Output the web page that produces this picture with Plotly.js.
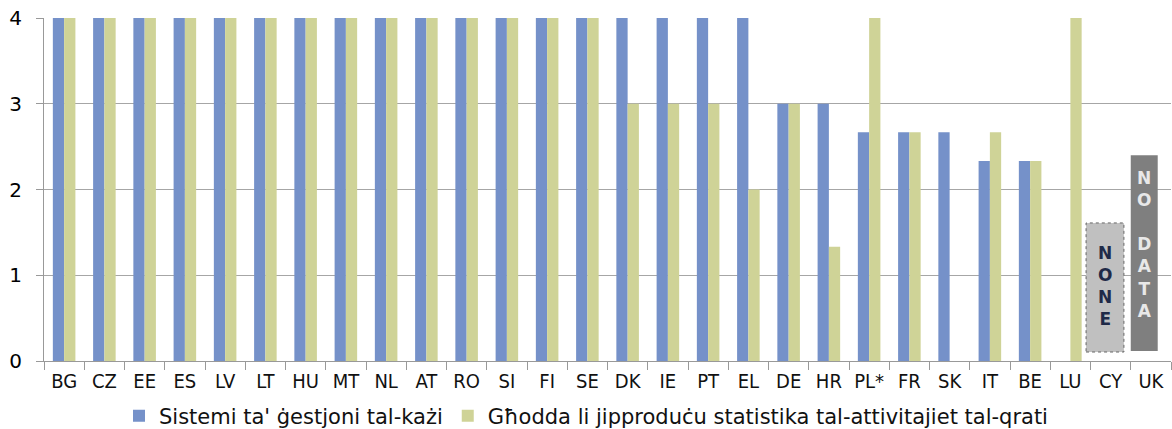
<!DOCTYPE html>
<html>
<head>
<meta charset="utf-8">
<script src="https://cdn.plot.ly/plotly-3.0.1.min.js"></script>
<style>html,body{margin:0;padding:0;background:#fff;}#chart{width:1172px;height:429px;}</style>
</head>
<body>
<div id="chart"></div>
<script>
const categories = ["BG","CZ","EE","ES","LV","LT","HU","MT","NL","AT","RO","SI","FI","SE","DK","IE","PT","EL","DE","HR","PL*","FR","SK","IT","BE","LU","CY","UK"];
const caseMgmt = [4,4,4,4,4,4,4,4,4,4,4,4,4,4,4,4,4,4,3,3,2.667,2.667,2.667,2.333,2.333,null,null,null];
const courtStats = [4,4,4,4,4,4,4,4,4,4,4,4,4,4,3,3,3,2,3,1.333,4,2.667,null,2.667,2.333,4,null,null];
const seriesNames = ["Sistemi ta' ġestjoni tal-każi","Għodda li jipproduċu statistika tal-attivitajiet tal-qrati"];
const yTicks = [0,1,2,3,4];

const FONT = "'DejaVu Sans', sans-serif";
const FONT_C = "'DejaVu Sans Condensed', 'DejaVu Sans', sans-serif";
const data = [
  {type:'bar', x:categories, y:caseMgmt, name:seriesNames[0], marker:{color:'#7591c9'}},
  {type:'bar', x:categories, y:courtStats, name:seriesNames[1], marker:{color:'#cfd397'}}
];
const idx = c => categories.indexOf(c);
const layout = {
  width:1172, height:429,
  margin:{l:44, r:1, t:18, b:68, autoexpand:false},
  paper_bgcolor:'#fff', plot_bgcolor:'#fff',
  font:{family:FONT, color:'#111', size:19},
  barmode:'group', bargap:0.44, bargroupgap:0,
  showlegend:true,
  legend:{orientation:'h', x:0.5, xanchor:'center', xref:'container', yref:'container', y:0.078, yanchor:'top',
          font:{size:21}, itemwidth:30, tracegroupgap:0},
  xaxis:{type:'category', tickson:'boundaries', ticks:'outside', ticklen:8, tickcolor:'#999', automargin:false,
         showline:true, linecolor:'#999', showgrid:false, tickangle:0,
         tickfont:{size:20, family:FONT_C}, range:[-0.5,27.5], ticklabelstandoff:2},
  yaxis:{range:[0,4], tickvals:yTicks, ticks:'outside', ticklen:7, tickcolor:'#999', automargin:false,
         showline:true, linecolor:'#999', showgrid:true, gridcolor:'#a6a6a6', gridwidth:1,
         zeroline:false, tickfont:{size:20, color:'#000'}, ticklabelstandoff:10},
  shapes:[
    {type:'rect', xref:'x', yref:'y', x0:idx('CY')-0.61, x1:idx('CY')+0.33, y0:0.105, y1:1.61,
     fillcolor:'#c0c0c0', line:{color:'#666', width:1, dash:'dot'}},
    {type:'rect', xref:'x', yref:'y', x0:idx('UK')-0.5, x1:idx('UK')+0.17, y0:0.117, y1:2.40,
     fillcolor:'#7f7f7f', line:{width:0}}
  ],
  annotations:[
    {xref:'x', yref:'y', x:idx('CY')-0.14, y:0.88, text:'N<br>O<br>N<br>E', showarrow:false,
     font:{family:FONT, size:17, color:'#1f2a48', weight:'bold'}},
    {xref:'x', yref:'y', x:idx('UK')-0.165, y:1.36, text:'N<br>O<br><br>D<br>A<br>T<br>A', showarrow:false,
     font:{family:FONT, size:17, color:'#e8e8e8', weight:'bold'}}
  ]
};
Plotly.newPlot('chart', data, layout, {displayModeBar:false, staticPlot:true});
</script>
</body>
</html>
